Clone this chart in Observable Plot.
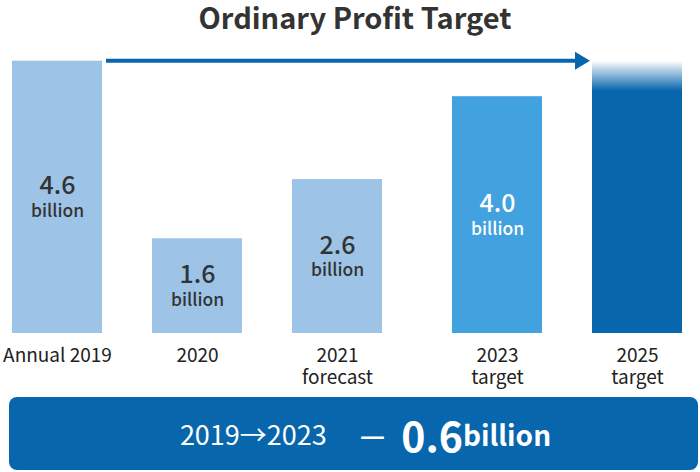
<!DOCTYPE html>
<html>
<head>
<meta charset="utf-8">
<script src="https://cdn.jsdelivr.net/npm/d3@7"></script>
<script src="https://cdn.jsdelivr.net/npm/@observablehq/plot@0.6"></script>
<style>
  html, body { margin: 0; padding: 0; background: #fff; }
  body { width: 700px; height: 472px; overflow: hidden; font-family: "Noto Sans CJK JP", "Noto Sans", sans-serif; }
  #title { height: 32px; line-height: 32px; text-align: center; font-size: 29px; font-weight: 700; color: #333; padding-left: 10px; }
  #banner { margin: 5px 0 0 9px; width: 689px; height: 73px; border-radius: 8px; background: #0866ac; color: #fff;
            display: flex; align-items: center; justify-content: center; padding-left: 24px; box-sizing: border-box; }
  #banner .range { font-size: 27px; font-weight: 400; }
  #banner .dash { font-size: 28px; font-weight: 700; margin: 0 16px 0 33px; }
  #banner .num { font-size: 41px; font-weight: 700; }
  #banner .unit { font-size: 28px; font-weight: 700; }
</style>
</head>
<body>
<div id="title">Ordinary Profit Target</div>
<div id="chart"></div>
<div id="banner"><span class="range">2019→2023</span><span class="dash">—</span><span class="num">0.6</span><span class="unit">billion</span></div>
<script>
const categories = ["Annual 2019", "2020", "2021 forecast", "2023 target", "2025 target"];
const values = [4.6, 1.6, 2.6, 4.0, 4.6];
const valueLabels = ["4.6", "1.6", "2.6", "4.0", ""];
const unitLabels = ["billion", "billion", "billion", "billion", ""];
const tickLine1 = ["Annual 2019", "2020", "2021", "2023", "2025"];
const tickLine2 = ["", "", "forecast", "target", "target"];
const barColors = ["#9dc4e6", "#9dc4e6", "#9dc4e6", "#42a1df", "url(#fadeBlue)"];
const labelColors = ["#333", "#333", "#333", "#fff", "#fff"];

const data = categories.map((c, i) => ({
  cat: c, value: values[i], label: valueLabels[i], unit: unitLabels[i],
  tick1: tickLine1[i], tick2: tickLine2[i], fill: barColors[i], color: labelColors[i]
}));
const arrowColor = "#0866ac";
const targetShift = 20; // extra gap before the target bars
const past = data.slice(0, 3);
const targets = data.slice(3);

function defsMark() {
  const svg = d3.create("svg:defs");
  const g = svg.append("linearGradient").attr("id", "fadeBlue")
    .attr("x1", 0).attr("y1", 0).attr("x2", 0).attr("y2", 1);
  g.append("stop").attr("offset", "0%").attr("stop-color", arrowColor).attr("stop-opacity", 0);
  g.append("stop").attr("offset", "11%").attr("stop-color", arrowColor).attr("stop-opacity", 1);
  g.append("stop").attr("offset", "100%").attr("stop-color", arrowColor).attr("stop-opacity", 1);
  return svg.node();
}

function arrowMark(index, scales) {
  const x = scales.x, y = scales.y;
  const bw = typeof x.bandwidth === "function" ? x.bandwidth() : (x.bandwidth ?? 90);
  const x0 = x(categories[0]) + bw + 4;
  const x1 = x(categories[categories.length - 1]) + targetShift - 2;
  const yy = y(values[0]);
  const g = d3.create("svg:g");
  g.append("line").attr("x1", x0).attr("x2", x1 - 12).attr("y1", yy).attr("y2", yy)
    .attr("stroke", arrowColor).attr("stroke-width", 4);
  g.append("path").attr("d", `M${x1},${yy} L${x1 - 15},${yy - 9} L${x1 - 15},${yy + 9} Z`)
    .attr("fill", arrowColor);
  return g.node();
}

function groupMarks(rows, dx) {
  return [
    Plot.barY(rows, { x: "cat", y: "value", fill: "fill", dx }),
    Plot.text(rows.filter(d => d.label), { x: "cat", y: d => d.value / 2, text: "label", fill: "color",
      dx, dy: -11, fontSize: 25, fontWeight: 500 }),
    Plot.text(rows.filter(d => d.unit), { x: "cat", y: d => d.value / 2, text: "unit", fill: "color",
      dx, dy: 14, fontSize: 17.5, fontWeight: 500 }),
    Plot.text(rows, { x: "cat", y: 0, text: "tick1", fill: "#222", dx, dy: 22, fontSize: 19 }),
    Plot.text(rows.filter(d => d.tick2), { x: "cat", y: 0, text: "tick2", fill: "#222", dx, dy: 44, fontSize: 19 })
  ];
}

const plot = Plot.plot({
  width: 700,
  height: 360,
  marginTop: 5,
  marginBottom: 59,
  marginLeft: 12,
  marginRight: 38,
  style: { fontFamily: "'Noto Sans CJK JP', 'Noto Sans', sans-serif", background: "transparent" },
  x: { domain: categories, paddingInner: 50 / 140, paddingOuter: 0, axis: null, label: null },
  y: { domain: [0, 5], axis: null, label: null },
  marks: [
    defsMark,
    ...groupMarks(past, 0),
    ...groupMarks(targets, targetShift),
    arrowMark
  ]
});
document.getElementById("chart").appendChild(plot);
</script>
</body>
</html>
